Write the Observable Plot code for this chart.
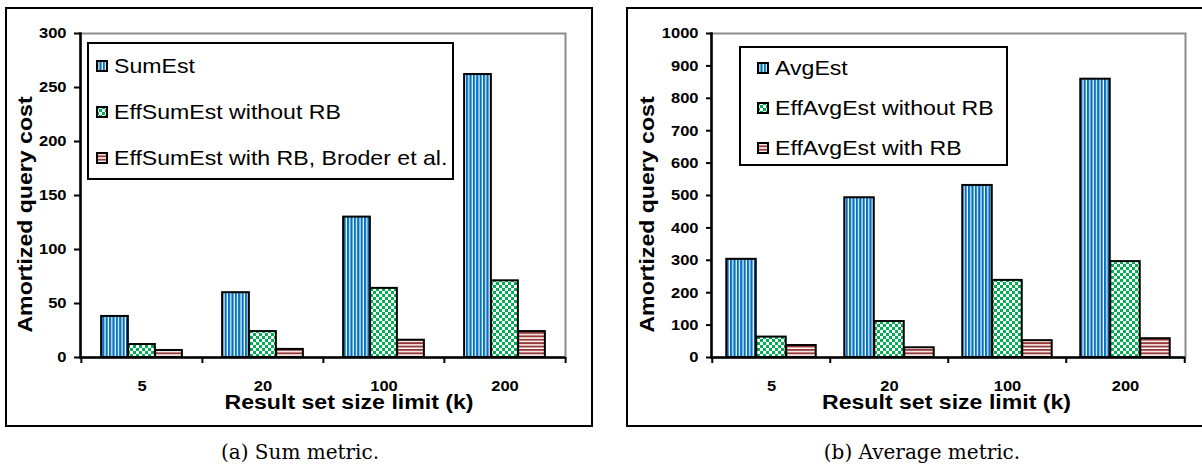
<!DOCTYPE html>
<html><head><meta charset="utf-8">
<script src="https://cdn.jsdelivr.net/npm/d3@7"></script>
<script src="https://cdn.jsdelivr.net/npm/@observablehq/plot@0.6"></script>
<style>
html,body{margin:0;padding:0;background:#fff;overflow:hidden;width:1202px;height:469px;position:relative}
.panel{position:absolute;border:2px solid #000;box-sizing:border-box;background:#fff}
.panel svg{position:absolute;left:0;top:0}
.legend{position:absolute;border:2px solid #000;box-sizing:border-box;background:#fff;font-family:"Liberation Sans",Arial,sans-serif;font-size:21px;color:#000}
.row{position:absolute;left:0;right:0;height:24px;line-height:24px;white-space:nowrap}
.sw{position:absolute;top:6px;width:12px;height:12px}
.lab{position:absolute;top:0;display:inline-block;transform:scaleX(1.1);transform-origin:0 50%}
.cap{position:absolute;font-family:"DejaVu Serif",serif;font-size:20px;line-height:24px;transform:translateX(-50%);white-space:nowrap;color:#000}
</style></head><body>
<svg width="0" height="0" style="position:absolute;left:0;top:0">
<defs>
<pattern id="pBlue" patternUnits="userSpaceOnUse" width="3.4" height="4"><rect width="3.4" height="4" fill="#fff"/><rect width="2.2" height="4" fill="#0070C0"/></pattern>
<pattern id="pGreen" patternUnits="userSpaceOnUse" width="6" height="6"><rect width="6" height="6" fill="#fff"/><rect width="3" height="3" fill="#00B050"/><rect x="3" y="3" width="3" height="3" fill="#00B050"/></pattern>
<pattern id="pRed" patternUnits="userSpaceOnUse" width="4" height="3.4"><rect width="4" height="3.4" fill="#fff"/><rect width="4" height="1.9" fill="#953735"/></pattern>
</defs></svg>
<script>
// ---- data ----
const categories = ["5", "20", "100", "200"];
const sumSeries = ["SumEst", "EffSumEst without RB", "EffSumEst with RB, Broder et al."];
const sumEst = [38, 60, 130, 262];
const effSumEstNoRB = [12, 24, 64, 71];
const effSumEstRB = [6.5, 7.5, 16, 24];
const avgSeries = ["AvgEst", "EffAvgEst without RB", "EffAvgEst with RB"];
const avgEst = [303, 493, 531, 859];
const effAvgEstNoRB = [63, 111, 238, 296];
const effAvgEstRB = [37, 30, 52, 58];
const sumTicks = [0, 50, 100, 150, 200, 250, 300];
const avgTicks = [0, 100, 200, 300, 400, 500, 600, 700, 800, 900, 1000];
const yTitle = "Amortized query cost";
const xTitle = "Result set size limit (k)";
const captions = ["(a) Sum metric.", "(b) Average metric."];
const patternIds = ["pBlue", "pGreen", "pRed"];

function makeChart(cfg) {
  const {values, series, ticks, yMax, barFrac, width, height, ml, mr, mt, mb, yTickSize, yTitleDx, yTitleDy, xTitleDx} = cfg;
  const rows = [];
  categories.forEach((c, j) => series.forEach((s, i) => rows.push({k: c, series: s, i, value: values[i][j]})));
  const bw = (width - ml - mr) / categories.length;
  const barW = bw * barFrac;
  const pad = (bw - series.length * barW) / 2;
  const bars = series.map((s, i) => Plot.barY(rows.filter(d => d.i === i), {
    x: "k", y: "value", fill: `url(#${patternIds[i]})`, stroke: "#000", strokeWidth: 2,
    insetLeft: pad + i * barW, insetRight: bw - pad - (i + 1) * barW
  }));
  return Plot.plot({
    width, height, marginLeft: ml, marginRight: mr, marginTop: mt, marginBottom: mb,
    style: {fontFamily: "'Liberation Sans', Arial, sans-serif", fontSize: "15px", fontWeight: "bold", background: "transparent", color: "#000"},
    x: {domain: categories, padding: 0, label: null},
    y: {domain: [0, yMax], label: null},
    marks: [
      Plot.frame({stroke: "#8c8c8c", strokeWidth: 2}),
      ...bars,
      Plot.axisY({ticks, tickSize: yTickSize, tickPadding: 8, strokeWidth: 2, label: null, tickFormat: d => String(d)}),
      Plot.axisX({tickSize: 0, tickPadding: 23, label: null}),
      Plot.ruleX(categories, {x: d => d, y1: 0, y2: 0, insetBottom: -6, dx: -bw / 2, stroke: "#000", strokeWidth: 2}),
      Plot.ruleX(categories.slice(-1), {x: d => d, y1: 0, y2: 0, insetBottom: -6, dx: bw / 2, stroke: "#000", strokeWidth: 2}),
      Plot.frame({anchor: "left", stroke: "#000", strokeWidth: 2.5}),
      Plot.ruleY([0], {stroke: "#000", strokeWidth: 2.5}),
      Plot.text([yTitle], {frameAnchor: "left", textAnchor: "middle", rotate: -90, dx: yTitleDx, dy: yTitleDy, fontSize: 21, fontWeight: "bold"}),
      Plot.text([xTitle], {frameAnchor: "bottom", textAnchor: "middle", dy: 51, dx: xTitleDx, fontSize: 21, fontWeight: "bold"})
    ]
  });
}

function addPanel(left, top, w, h, svg) {
  const div = document.createElement("div");
  div.className = "panel";
  Object.assign(div.style, {left: left + "px", top: top + "px", width: w + "px", height: h + "px"});
  div.appendChild(svg);
  document.body.appendChild(div);
  // reference glyphs are slightly wider: stretch each text along its direction
  svg.querySelectorAll("text").forEach(t => {
    const L = t.getComputedTextLength();
    if (L > 0) { t.setAttribute("textLength", (L * 1.1).toFixed(2)); t.setAttribute("lengthAdjust", "spacingAndGlyphs"); }
  });
}

function addLegend(box, series, rowTops, swLeft, labLeft) {
  const lg = document.createElement("div");
  lg.className = "legend";
  Object.assign(lg.style, {left: box[0] + "px", top: box[1] + "px", width: box[2] + "px", height: box[3] + "px"});
  series.forEach((s, i) => {
    const row = document.createElement("div");
    row.className = "row";
    row.style.top = rowTops[i] + "px";
    const sw = document.createElementNS("http://www.w3.org/2000/svg", "svg");
    sw.setAttribute("class", "sw");
    sw.setAttribute("width", 12); sw.setAttribute("height", 12);
    sw.style.left = swLeft + "px";
    const r = document.createElementNS("http://www.w3.org/2000/svg", "rect");
    r.setAttribute("x", 1); r.setAttribute("y", 1); r.setAttribute("width", 10); r.setAttribute("height", 10);
    r.setAttribute("fill", `url(#${patternIds[i]})`); r.setAttribute("stroke", "#000"); r.setAttribute("stroke-width", 2);
    sw.appendChild(r);
    const lab = document.createElement("span");
    lab.className = "lab";
    lab.style.left = labLeft + "px";
    lab.textContent = s;
    row.appendChild(sw); row.appendChild(lab);
    lg.appendChild(row);
  });
  document.body.appendChild(lg);
}

function addCaption(text, cx, top) {
  const c = document.createElement("div");
  c.className = "cap";
  c.style.left = cx + "px"; c.style.top = top + "px";
  c.textContent = text;
  document.body.appendChild(c);
}

const left = makeChart({
  values: [sumEst, effSumEstNoRB, effSumEstRB], series: sumSeries, ticks: sumTicks, yMax: 300, barFrac: 0.2227,
  width: 584, height: 416, ml: 73, mr: 26, mt: 24, mb: 68, yTickSize: 6, yTitleDx: -55, yTitleDy: 19, xTitleDx: 26
});
addPanel(5, 7, 588, 420, left);

const right = makeChart({
  values: [avgEst, effAvgEstNoRB, effAvgEstRB], series: avgSeries, ticks: avgTicks, yMax: 1000, barFrac: 0.253,
  width: 576, height: 416, ml: 83, mr: 19, mt: 24, mb: 68, yTickSize: 5, yTitleDx: -64, yTitleDy: 19, xTitleDx: -2
});
addPanel(626, 7, 580, 420, right);

addLegend([87, 42, 367, 138], sumSeries, [10, 56, 102], 7, 25);
addLegend([739, 46, 269, 120], avgSeries, [8, 48, 88], 16, 34);

addCaption(captions[0], 300, 440);
addCaption(captions[1], 922, 440);
</script>
</body></html>
